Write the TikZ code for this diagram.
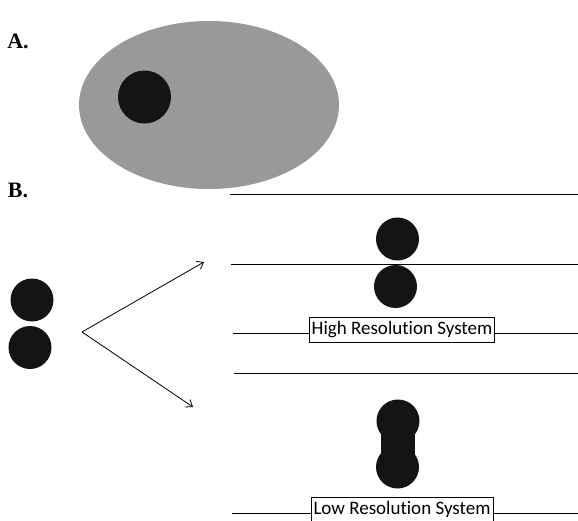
\documentclass[tikz,border=0pt]{standalone}
\usepackage{fontspec}
\setmainfont{Liberation Serif}
\newfontfamily\boxfont[Ligatures=NoCommon]{Carlito}
\usetikzlibrary{arrows.meta, shapes.geometric, calc}

\begin{document}
\begin{tikzpicture}[x=1pt, y=-1pt]
    \useasboundingbox (0,0) rectangle (578,520);
    \tikzset{
        dot/.style={circle, fill=black!92, inner sep=0pt, minimum size=43pt},
        sysbox/.style={draw, fill=white, line width=0.8pt, inner xsep=2.5pt, inner ysep=2pt, minimum height=25pt, font=\boxfont\fontsize{19}{19}\selectfont},
        panel/.style={font=\bfseries\fontsize{22}{22}\selectfont}
    }

    % Panel labels
    \node[panel] (A) at (18,41) {A.};
    \node[panel] (B) at (18,190) {B.};

    % Draw cell
    \node[ellipse, fill=black!40, minimum width=260pt, minimum height=168pt, inner sep=0pt] (cell) at (209,105) {};
    \node[circle, fill=black!92, minimum size=53pt, inner sep=0pt] (nucleus) at (144.5,97) {};

    % Draw left pair
    \node[dot] (l1) at (32,300) {};
    \node[dot] (l2) at (30,347.5) {};

    % Draw arrows
    \coordinate (split) at (82,332);
    \coordinate (up) at (204,262);
    \coordinate (down) at (193,407);
    \draw[-{Straight Barb[length=6pt, width=9pt]}, line width=0.8pt] (split) -- (up);
    \draw[-{Straight Barb[length=6pt, width=9pt]}, line width=0.8pt] (split) -- (down);

    % Draw lines
    \coordinate (h1a) at (230,194); \coordinate (h1b) at (578,194);
    \coordinate (h2a) at (231,264); \coordinate (h2b) at (578,264);
    \coordinate (h3a) at (233,333); \coordinate (h3b) at (578,333);
    \coordinate (h4a) at (234,373); \coordinate (h4b) at (578,373);
    \coordinate (h5a) at (232,513); \coordinate (h5b) at (578,513);
    \foreach \i in {1,...,5}
        \draw[line width=0.9pt] (h\i a) -- (h\i b);

    % High resolution pair
    \node[dot] (r1) at (397.5,239) {};
    \node[dot] (r2) at (395.5,286.5) {};
    \node[sysbox] (high) at (402,329.5) {High Resolution System};

    % Low resolution blob
    \node[dot] (b1) at (398,421) {};
    \node[dot] (b2) at (397.5,467) {};
    \fill[black!92] ($(b1.center)+(-17,0)$) rectangle ($(b2.center)+(17,0)$);
    \node[sysbox] (low) at (402,509.5) {Low Resolution System};
\end{tikzpicture}
\end{document}
